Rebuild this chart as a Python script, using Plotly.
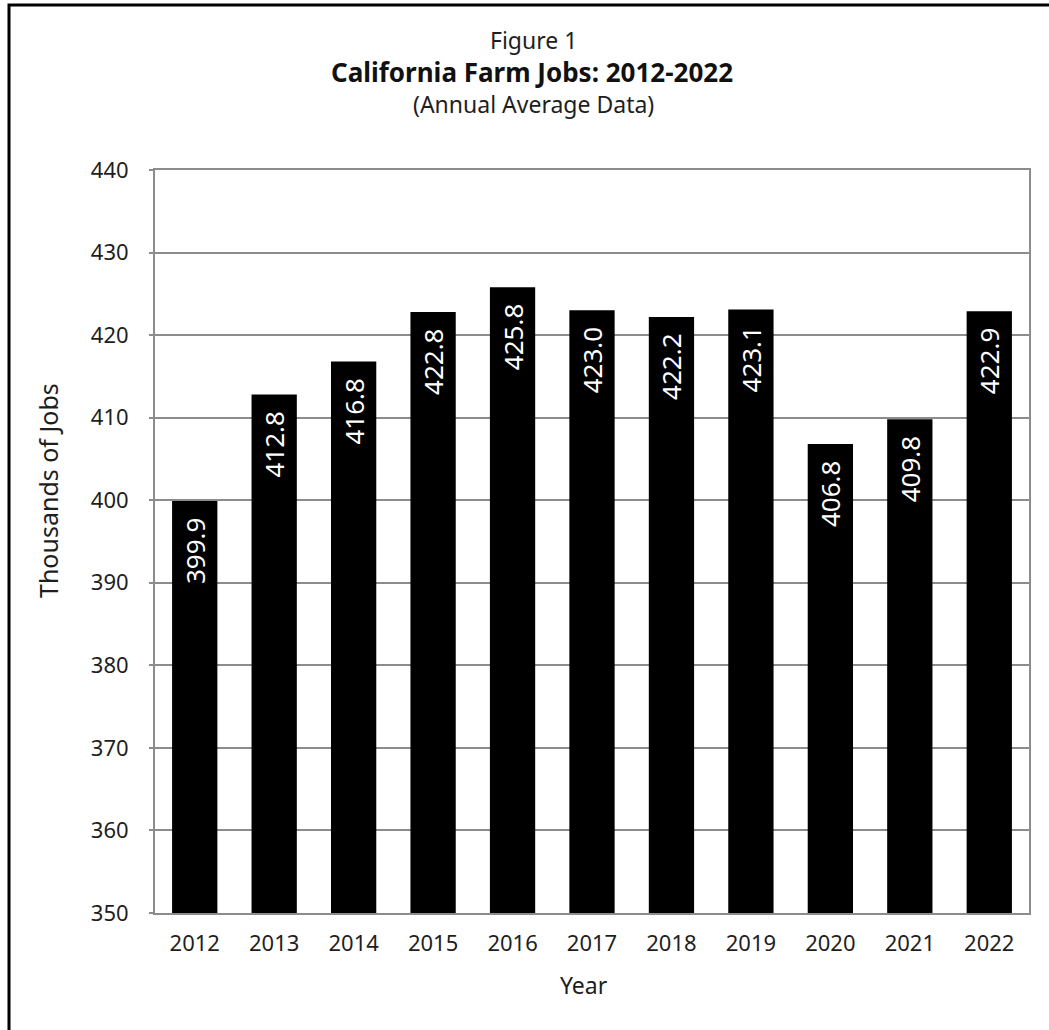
import plotly.graph_objects as go

years = ["2012", "2013", "2014", "2015", "2016", "2017", "2018", "2019", "2020", "2021", "2022"]
jobs = [399.9, 412.8, 416.8, 422.8, 425.8, 423.0, 422.2, 423.1, 406.8, 409.8, 422.9]
y_ticks = [350, 360, 370, 380, 390, 400, 410, 420, 430, 440]

W, H = 1049, 1030
L, R, T, B = 155, 20, 170, 117
pw, ph = W - L - R, H - T - B

def px_x(p):
    return (p - L) / pw

def px_y(p):
    return (H - B - p) / ph

FONT = "Noto Sans"
TXT = "#1e1e1e"
GRID = "#8c8c8c"

fig = go.Figure()
fig.add_trace(go.Bar(
    x=years, y=jobs,
    marker=dict(color="black", line=dict(width=0)),
    texttemplate="%{y:.1f}\u00a0\u00a0",
    textposition="inside",
    insidetextanchor="end",
    textangle=-90,
    constraintext="none",
    textfont=dict(color="white", size=26, family=FONT),
    hoverinfo="x+y",
))

fig.update_layout(
    width=W, height=H,
    margin=dict(l=L, r=R, t=T, b=B),
    paper_bgcolor="white", plot_bgcolor="white",
    bargap=0.43,
    showlegend=False,
    font=dict(family=FONT, color=TXT),
    xaxis=dict(
        tickfont=dict(size=22, color=TXT),
        showline=True, linecolor=GRID, linewidth=2, mirror=True,
        ticks="", showgrid=False, ticklabelstandoff=10,
    ),
    yaxis=dict(
        range=[350, 440],
        tickvals=y_ticks,
        tickfont=dict(size=22, color=TXT),
        showline=True, linecolor=GRID, linewidth=2, mirror=True,
        showgrid=True, gridcolor=GRID, gridwidth=2,
        ticks="outside", ticklen=4, tickcolor=GRID, tickwidth=2,
        ticklabelstandoff=16,
        zeroline=False,
    ),
)

# title block (three separate lines)
fig.add_annotation(text="Figure 1", xref="paper", yref="paper", x=px_x(533), y=px_y(40),
                   showarrow=False, font=dict(size=23, color=TXT), xanchor="center", yanchor="middle")
fig.add_annotation(text="<b>California Farm Jobs: 2012-2022</b>", xref="paper", yref="paper",
                   x=px_x(532), y=px_y(72), showarrow=False, font=dict(size=26, color="#111"),
                   xanchor="center", yanchor="middle")
fig.add_annotation(text="(Annual Average Data)", xref="paper", yref="paper", x=px_x(533), y=px_y(104),
                   showarrow=False, font=dict(size=23, color=TXT), xanchor="center", yanchor="middle")

# axis titles
fig.add_annotation(text="Thousands of Jobs", xref="paper", yref="paper", x=px_x(48), y=px_y(491),
                   textangle=-90, showarrow=False, font=dict(size=25, color=TXT),
                   xanchor="center", yanchor="middle")
fig.add_annotation(text="Year", xref="paper", yref="paper", x=px_x(584), y=px_y(985),
                   showarrow=False, font=dict(size=23, color=TXT),
                   xanchor="center", yanchor="middle")

# outer frame (left/top visible)
fig.add_shape(type="rect", xref="paper", yref="paper",
              x0=px_x(9), y0=px_y(1045), x1=px_x(1060), y1=px_y(5),
              line=dict(color="black", width=3), fillcolor="rgba(0,0,0,0)", layer="above")

fig.write_html("out.html")
